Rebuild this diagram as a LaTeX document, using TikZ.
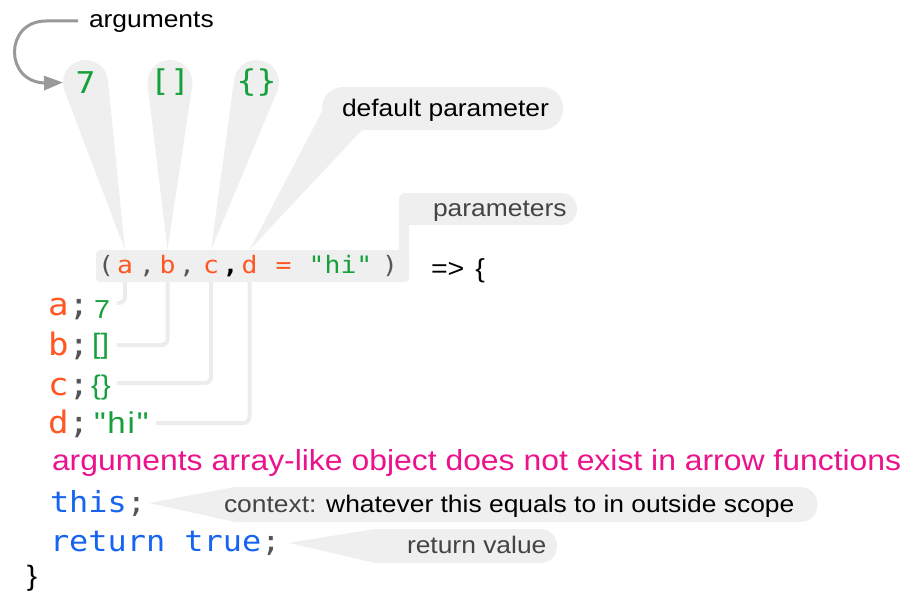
\documentclass[tikz,border=0pt]{standalone}
\usepackage{fontspec}
\setmainfont{Liberation Sans}[FakeStretch=1.1]
\newfontfamily\valfont{Liberation Sans}[FakeStretch=1.1]
\newfontfamily\codefont{DejaVu Sans Mono}[FakeStretch=1.1]
\usetikzlibrary{calc,arrows.meta}
\pgfdeclarelayer{bg}
\pgfsetlayers{bg,main}
\definecolor{bubble}{RGB}{239,239,239}
\definecolor{connline}{RGB}{236,236,236}
\definecolor{jsgreen}{RGB}{22,160,60}
\definecolor{jsorange}{RGB}{255,86,34}
\definecolor{jsmagenta}{RGB}{236,18,140}
\definecolor{jsblue}{RGB}{22,100,240}
\definecolor{punct}{RGB}{85,85,85}
\definecolor{labelgray}{RGB}{68,68,68}
\definecolor{arrowgray}{RGB}{153,153,153}
\newcommand\fsz[1]{\fontsize{#1}{#1}\selectfont}
\begin{document}
\begin{tikzpicture}[x=1pt,y=-1pt,
  every node/.style={inner sep=0pt, outer sep=0pt},
  lbl/.style={anchor=base west, font=\fsz{24}, text=black},
  head/.style={circle, fill=bubble, minimum size=45pt, font=\codefont\fsz{30}, text=jsgreen},
  ptok/.style={anchor=base, font=\codefont\fsz{24}},
  conn/.style={draw=connline, line width=4pt, rounded corners=6pt},
  rowkey/.style={anchor=base west, font=\codefont\fsz{31}},
  val/.style={anchor=base west, text=jsgreen},
  argarrow/.style={draw=arrowgray, line width=3pt, -{Triangle[length=19pt,width=14pt]}}]
\useasboundingbox (0,0) rectangle (904,591);

% parameter box, strip and "parameters" bubble
\node[fill=bubble, rounded corners=4pt, minimum width=313pt, minimum height=32pt] (pbox) at (252.5,266) {};
\fill[bubble] (399,212) rectangle (409,270);
\fill[bubble, rounded corners=6pt] (399,193) rectangle (425,225);
\fill[bubble] (420,193) -- (561,193) .. controls (582.3,193) and (582.3,225) .. (561,225) -- (420,225) -- cycle;
\node[lbl, text=labelgray] (plbl) at (433,216) {parameters};

% parameter tokens
\node[ptok, text=punct] (lp) at (106,273) {(};
\node[ptok, text=jsorange] (pa) at (125,273) {a};
\node[ptok, text=punct] (c1) at (147,273) {,};
\node[ptok, text=jsorange] (pb) at (167.5,273) {b};
\node[ptok, text=punct] (c2) at (187,273) {,};
\node[ptok, text=jsorange] (pc) at (211,273) {c};
\node[ptok, text=black] (c3) at (230.5,273) {\bfseries ,};
\node[ptok, text=jsorange] (pd) at (249.5,273) {d};
\node[ptok, text=jsorange] (peq) at (283.5,273) {=};
\node[ptok, text=jsgreen] (phi) at (340.5,273) {"hi"};
\node[ptok, text=punct] (rp) at (390,273) {)};
\node[lbl, font=\fsz{26}] (fat) at (431,277) {=>\hspace{11pt}\{};

\coordinate (ta) at (pa |- pbox.north);
\coordinate (tb) at (pb |- pbox.north);
\coordinate (tc) at (pc |- pbox.north);
\coordinate (td) at (pd |- pbox.north);

% argument heads
\node[head] (h7) at (85.5,82.5) {\makebox[0pt]{7}};
\node[head] (hb) at (170,82.5) {\makebox[0pt]{[]}};
\node[head] (hc) at (256.5,82.5) {\makebox[0pt]{\{\}}};

% default parameter label
\node[lbl] (dplbl) at (342,117) {default parameter};

% arguments label and arrow
\node[lbl] (argl) at (89,28) {arguments};
\coordinate (as) at (78,21);
\draw[argarrow] (as) -- (46,21) .. controls (4,21) and (4,83) .. (46,83) -- (h7.west);

% code rows
\node[rowkey] (ka) at (48,315) {\textcolor{jsorange}{a}\textcolor{punct}{;}};
\node[rowkey] (kb) at (48,355) {\textcolor{jsorange}{b}\textcolor{punct}{;}};
\node[rowkey] (kc) at (48,395) {\textcolor{jsorange}{c}\textcolor{punct}{;}};
\node[rowkey] (kd) at (48,433) {\textcolor{jsorange}{d}\textcolor{punct}{;}};
\node[val, font=\valfont\fsz{26}] (va) at (94,318) {7};
\node[val, font=\valfont\fsz{28}] (vb) at (92,353) {[]};
\node[val, font=\valfont\fsz{27}] (vc) at (91,394) {\{\}};
\node[val, font=\valfont\fsz{30}\addfontfeature{LetterSpace=6}] (vd) at (94,433) {"hi"};

\coordinate (ea) at (117,303);
\coordinate (eb) at (117,345);
\coordinate (ec) at (117,383);
\coordinate (ed) at (156,423);
\draw[conn] (pa |- pbox.south) |- (ea);
\draw[conn] (pb |- pbox.south) |- (eb);
\draw[conn] (pc |- pbox.south) |- (ec);
\draw[conn] (pd |- pbox.south) |- (ed);

\node[anchor=base west, font=\fsz{29}, text=jsmagenta] (note) at (52,470) {arguments array-like object does not exist in arrow functions};
\node[anchor=base west, font=\codefont\fsz{29}] (thisl) at (50,512) {\textcolor{jsblue}{this}\textcolor{punct}{;}};
\node[anchor=base west, font=\codefont\fsz{29}] (retl) at (50,551) {\textcolor{jsblue}{return true}\textcolor{punct}{;}};
\node[anchor=base west, font=\fsz{28}] (cb) at (27,585) {\}};

\node[lbl] (ctx) at (224,512) {\textcolor{labelgray}{context:} whatever this equals to in outside scope};
\node[lbl, text=labelgray] (rv) at (407,553) {return value};

\begin{pgfonlayer}{bg}
\fill[bubble] (ta) -- (tangent cs:node=h7,point={(ta)},solution=1) -- (tangent cs:node=h7,point={(ta)},solution=2) -- cycle;
\fill[bubble] (tb) -- (tangent cs:node=hb,point={(tb)},solution=1) -- (tangent cs:node=hb,point={(tb)},solution=2) -- cycle;
\fill[bubble] (tc) -- (tangent cs:node=hc,point={(tc)},solution=1) -- (tangent cs:node=hc,point={(tc)},solution=2) -- cycle;
\fill[bubble] (343.5,87) -- (541.5,87) .. controls (570.2,87) and (570.2,130) .. (541.5,130) -- (343.5,130) .. controls (314.8,130) and (314.8,87) .. (343.5,87) -- cycle;
\fill[bubble] (td) -- (328,100) -- (362,130) -- cycle;
\fill[bubble] ([xshift=3pt]thisl.east) -- (235,487) -- (800,487) .. controls (823.3,487) and (823.3,522) .. (800,522) -- (235,522) -- cycle;
\fill[bubble] ([xshift=8pt]retl.east) -- (375,529) -- (540,529) .. controls (562.7,529) and (562.7,563) .. (540,563) -- (375,563) -- cycle;
\end{pgfonlayer}
\end{tikzpicture}
\end{document}
